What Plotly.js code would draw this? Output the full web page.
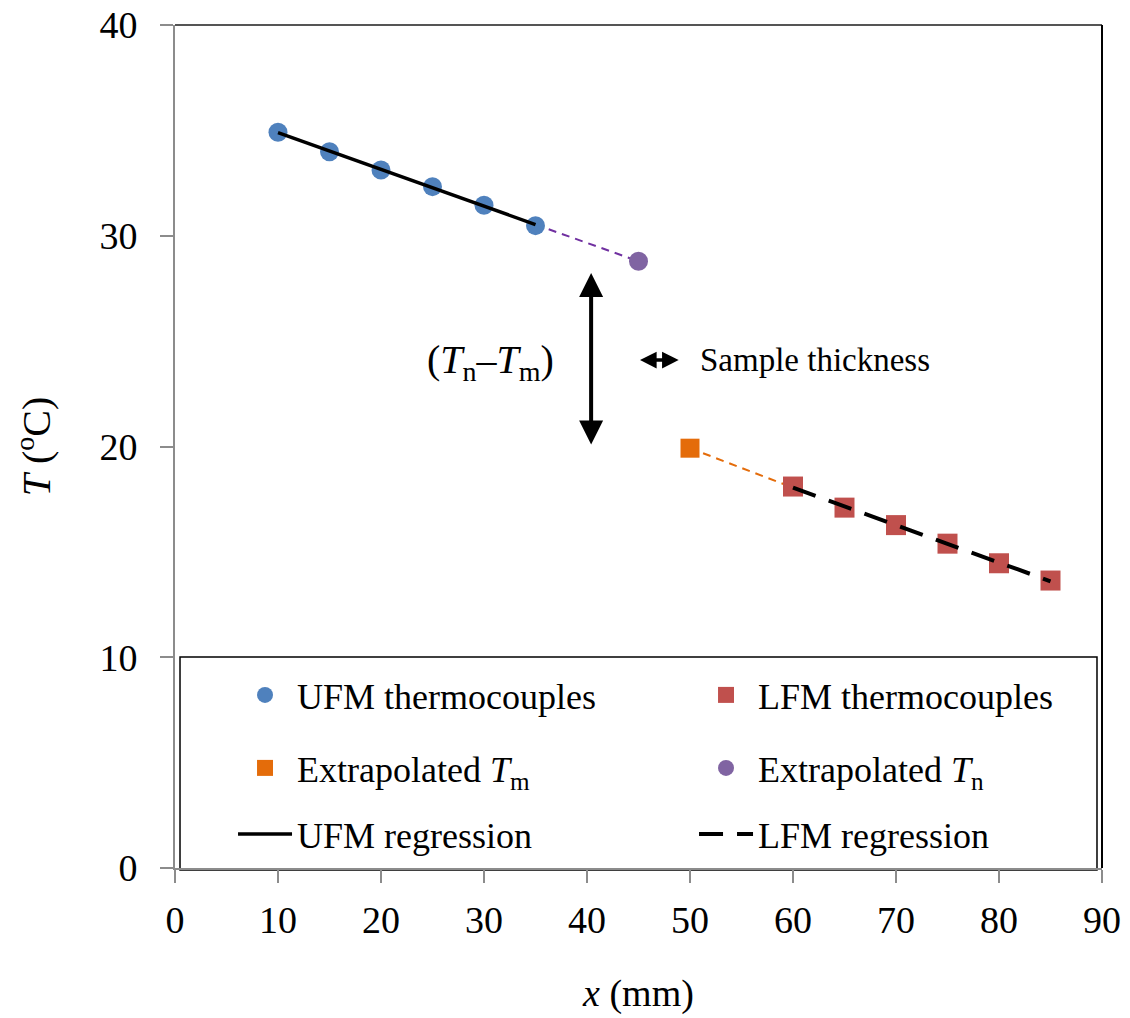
<!DOCTYPE html>
<html>
<head>
<meta charset="utf-8">
<script src="https://cdn.plot.ly/plotly-3.0.1.min.js"></script>
<style>html,body{margin:0;padding:0;background:#fff;}#chart{width:1130px;height:1018px;}</style>
</head>
<body>
<div id="chart"></div>
<script>
// ---- data ----
const xUFM = [10, 15, 20, 25, 30, 35];
const tUFM = [34.91, 33.99, 33.12, 32.33, 31.45, 30.48];
const xLFM = [60, 65, 70, 75, 80, 85];
const tLFM = [18.10, 17.10, 16.27, 15.39, 14.46, 13.64];
const xTn = [45];
const tTn = [28.79];
const xTm = [50];
const tTm = [19.92];
const xTicks = [0, 10, 20, 30, 40, 50, 60, 70, 80, 90];
const yTicks = [0, 10, 20, 30, 40];

// least-squares regression derived from the data arrays
function fit(xs, ys) {
  const n = xs.length;
  const mx = xs.reduce((a, b) => a + b, 0) / n;
  const my = ys.reduce((a, b) => a + b, 0) / n;
  let sxy = 0, sxx = 0;
  for (let i = 0; i < n; i++) { sxy += (xs[i] - mx) * (ys[i] - my); sxx += (xs[i] - mx) ** 2; }
  const b = sxy / sxx;
  const a = my - b * mx;
  return x => a + b * x;
}
const fU = fit(xUFM, tUFM);
const fL = fit(xLFM, tLFM);
const xUr = [xUFM[0], xUFM[xUFM.length - 1]];
const xLr = [xLFM[0], xLFM[xLFM.length - 1]];

const FONT = 'Liberation Serif, Times New Roman, serif';
const BLUE = '#4F81BD', RED = '#C0504D', ORANGE = '#E46C0A', PURPLE = '#8064A2';

const traces = [
  // extrapolation connectors (no legend)
  {x: [xUr[1], xTn[0]], y: [fU(xUr[1]), tTn[0]], mode: 'lines', showlegend: false, hoverinfo: 'skip',
   line: {color: '#7030A0', width: 2, dash: '8px,6px'}},
  {x: [xTm[0], xLr[0]], y: [tTm[0], fL(xLr[0])], mode: 'lines', showlegend: false, hoverinfo: 'skip',
   line: {color: ORANGE, width: 2, dash: '8px,6px'}},
  {name: 'UFM thermocouples', x: xUFM, y: tUFM, mode: 'markers', legend: 'legend', legendrank: 1, legendwidth: 392,
   marker: {symbol: 'circle', size: 19, color: BLUE}},
  {name: 'LFM thermocouples', x: xLFM, y: tLFM, mode: 'markers', legend: 'legend', legendrank: 2, legendwidth: 330,
   marker: {symbol: 'square', size: 20, color: RED}},
  {name: 'Extrapolated <i>T</i><sub>m</sub>', x: xTm, y: tTm, mode: 'markers', legend: 'legend2', legendrank: 1, legendwidth: 392,
   marker: {symbol: 'square', size: 19, color: ORANGE}},
  {name: 'Extrapolated <i>T</i><sub>n</sub>', x: xTn, y: tTn, mode: 'markers', legend: 'legend2', legendrank: 2, legendwidth: 330,
   marker: {symbol: 'circle', size: 19, color: PURPLE}},
  {name: 'UFM regression', x: xUr, y: xUr.map(fU), mode: 'lines', legend: 'legend3', legendrank: 1, legendwidth: 392,
   line: {color: '#000', width: 3.5}},
  {name: 'LFM regression', x: xLr, y: xLr.map(fL), mode: 'lines', legend: 'legend3', legendrank: 2, legendwidth: 330,
   line: {color: '#000', width: 4, dash: '24px,14px'}}
];

const legendBase = {
  orientation: 'h', xanchor: 'left', yanchor: 'middle', x: 0.0626,
  bgcolor: 'rgba(0,0,0,0)', borderwidth: 0, itemwidth: 54,
  font: {family: FONT, size: 36, color: '#000'}, traceorder: 'normal'
};
const P = (py) => (868 - py) / 843;

const layout = {
  width: 1130, height: 1018,
  margin: {l: 175, r: 28, t: 25, b: 150},
  paper_bgcolor: '#fff', plot_bgcolor: '#fff',
  font: {family: FONT, color: '#000', size: 38},
  showlegend: true,
  legend: Object.assign({}, legendBase, {y: P(695)}),
  legend2: Object.assign({}, legendBase, {y: P(768)}),
  legend3: Object.assign({}, legendBase, {y: P(834)}),
  xaxis: {
    range: [0, 90], tickvals: xTicks, ticktext: xTicks.map(String),
    showgrid: false, zeroline: false, showline: true, linecolor: '#8c8c8c', linewidth: 2,
    ticks: 'outside', ticklen: 13, tickwidth: 2, tickcolor: '#8c8c8c', ticklabelstandoff: 4,
    tickfont: {family: FONT, size: 38, color: '#000'},
    title: {text: '<i>x</i> (mm)', font: {family: FONT, size: 38, color: '#000'}, standoff: 40},
    fixedrange: true
  },
  yaxis: {
    range: [0, 40], tickvals: yTicks, ticktext: yTicks.map(String),
    showgrid: false, zeroline: false, showline: true, linecolor: '#8c8c8c', linewidth: 2,
    ticks: 'outside', ticklen: 13, tickwidth: 2, tickcolor: '#8c8c8c', ticklabelstandoff: 15,
    tickfont: {family: FONT, size: 38, color: '#000'},
    title: {text: '<i>T</i> (<sup>o</sup>C)', font: {family: FONT, size: 40, color: '#000'}, standoff: 36},
    fixedrange: true
  },
  shapes: [
    {type: 'rect', xref: 'paper', yref: 'paper', x0: 0.0054, x1: 0.9946, y0: -0.0024, y1: P(657),
     line: {color: '#000', width: 1.5}, fillcolor: '#fff', layer: 'below'},
    {type: 'line', xref: 'paper', yref: 'paper', x0: 0, x1: 1, y0: 1, y1: 1, line: {color: '#555', width: 2}},
    {type: 'line', xref: 'paper', yref: 'paper', x0: 1, x1: 1, y0: 0, y1: 1, line: {color: '#000', width: 2}}
  ],
  annotations: [
    {x: 40.4, y: 20.1, ax: 40.4, ay: 28.3, xref: 'x', yref: 'y', axref: 'x', ayref: 'y', text: '',
     showarrow: true, arrowhead: 2, arrowside: 'end+start', arrowwidth: 4, arrowsize: 1.2, arrowcolor: '#000',
     standoff: 0, startstandoff: 0},
    {x: 48.9, y: 24.1, ax: 45.0, ay: 24.1, xref: 'x', yref: 'y', axref: 'x', ayref: 'y', text: '',
     showarrow: true, arrowhead: 2, arrowside: 'end+start', arrowwidth: 3.5, arrowsize: 0.95, arrowcolor: '#000',
     standoff: 0, startstandoff: 0},
    {x: 30.6, y: 24.0, xref: 'x', yref: 'y', showarrow: false, xanchor: 'center', yanchor: 'middle',
     text: '(<i>T</i><sub>n</sub>–<i>T</i><sub>m</sub>)', font: {family: FONT, size: 40, color: '#000'}},
    {x: 50.8, y: 24.1, xref: 'x', yref: 'y', showarrow: false, xanchor: 'left', yanchor: 'middle',
     text: 'Sample thickness', font: {family: FONT, size: 33, color: '#000'}}
  ]
};

Plotly.newPlot('chart', traces, layout, {displayModeBar: false, staticPlot: true});
</script>
</body>
</html>
